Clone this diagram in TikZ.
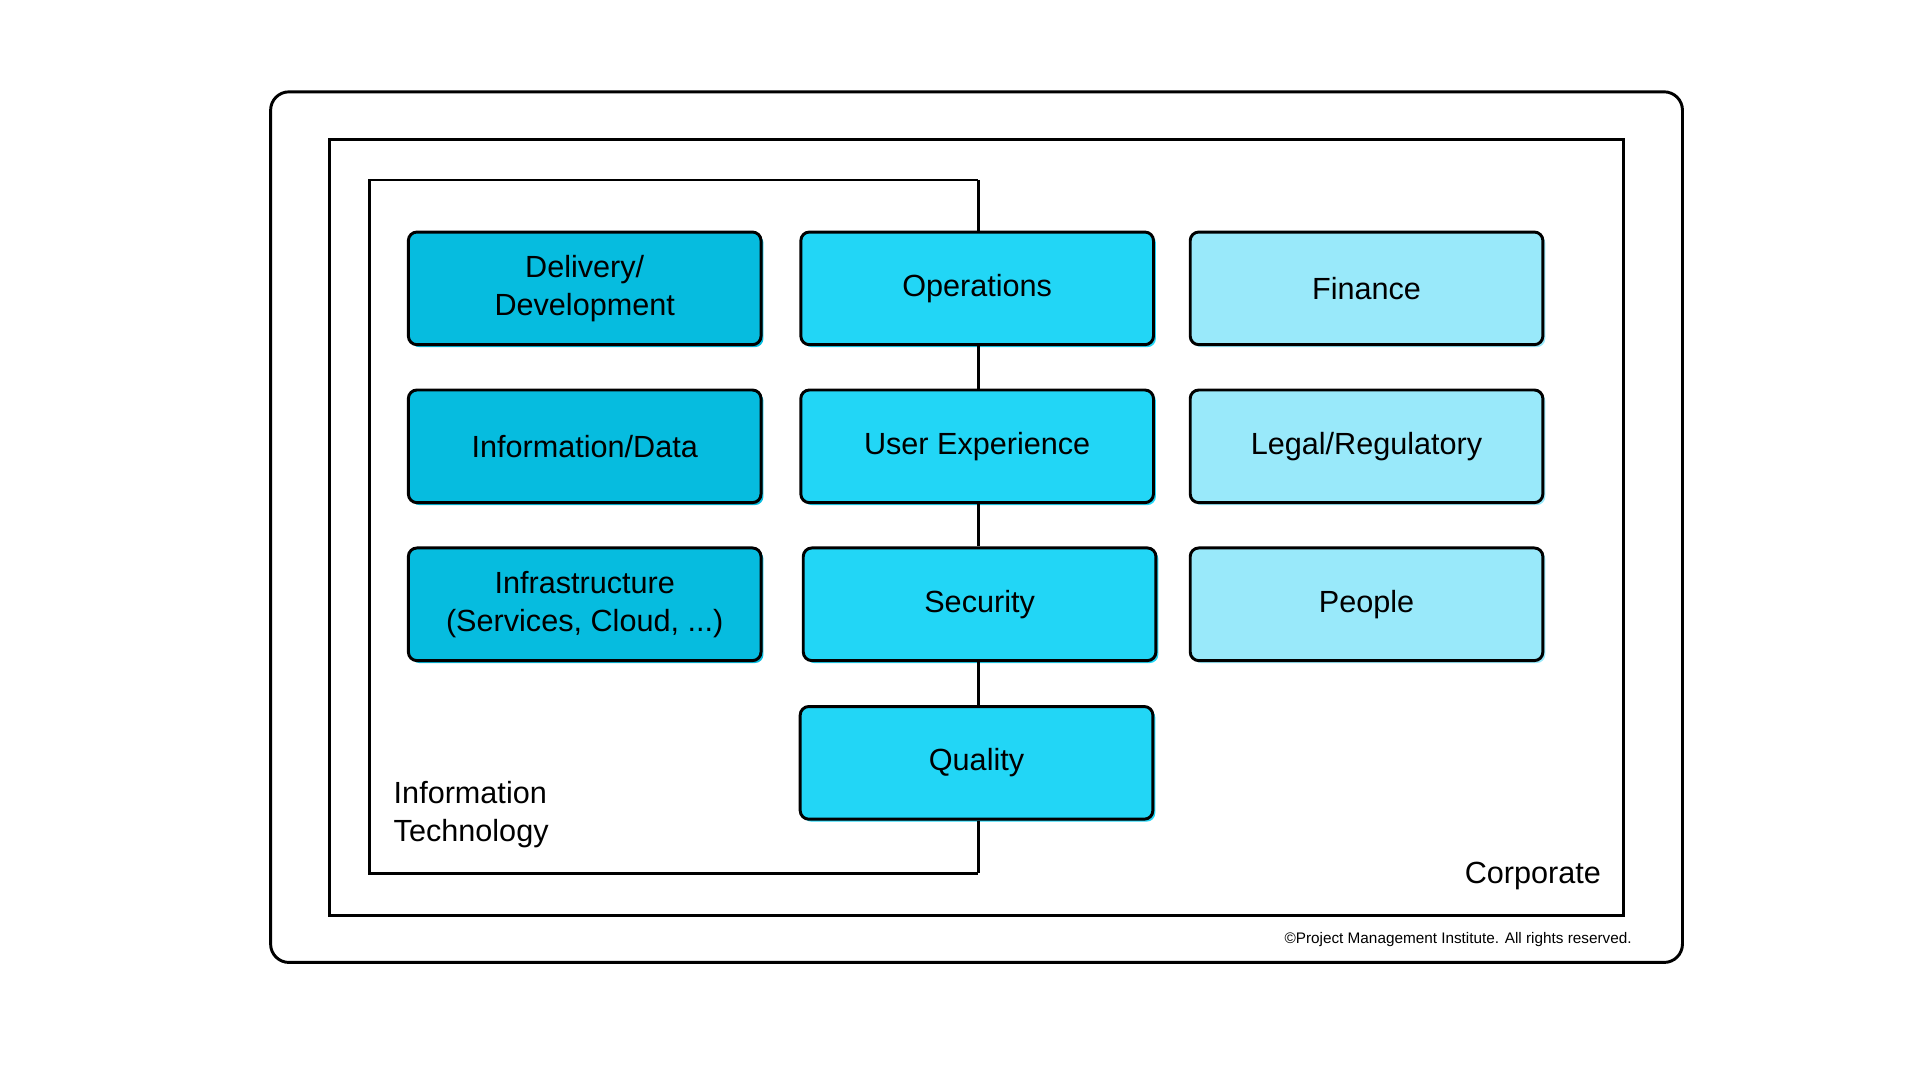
\documentclass[tikz,border=0pt]{standalone}
\usepackage{fontspec}
\setmainfont{Liberation Sans}
\definecolor{cA}{HTML}{06BCDF}
\definecolor{cB}{HTML}{22D6F6}
\definecolor{cC}{HTML}{99E9FA}
\begin{document}
\begin{tikzpicture}[x=1pt,y=-1pt,
  box/.style={draw=black,line width=2.4pt,rounded corners=7pt,minimum width=288pt,minimum height=92pt,align=center,font=\fontsize{25}{31}\selectfont,inner sep=0pt},
  frame/.style={line width=2.4pt}]
\useasboundingbox (0,0) rectangle (1568,882);
\draw[frame,rounded corners=15pt] (221,75) rectangle (1374,786);
\draw[frame] (269,114) rectangle (1326,748);
\coordinate (t) at (799,147);
\coordinate (b) at (799,713);
\draw[frame] (t) -- (302,147) -- (302,713) -- (b);
\foreach \n/\x/\y/\c/\t in {
  d/477.5/235.5/cA/{Delivery/\\Development},
  i/477.5/364.5/cA/{Information/Data},
  f/477.5/493.5/cA/{Infrastructure\\(Services, Cloud, ...)},
  o/798/235.5/cB/{Operations},
  u/798/364.5/cB/{User Experience},
  s/800/493.5/cB/{Security},
  q/797.5/623/cB/{Quality},
  fi/1116/235.5/cC/{Finance},
  l/1116/364.5/cC/{Legal/Regulatory},
  p/1116/493.5/cC/{People}}{
  \fill[\c,rounded corners=7pt] (\x-142,\y-44) rectangle (\x+146,\y+48);
  \node[box,fill=\c] (\n) at (\x,\y) {\t};
}
\draw[frame] (t) -- (o.north -| t);
\draw[frame] (o.south -| t) -- (u.north -| t);
\draw[frame] (u.south -| t) -- (s.north -| t);
\draw[frame] (s.south -| t) -- (q.north -| t);
\draw[frame] (q.south -| t) -- (b);
\node[anchor=west,align=left,font=\fontsize{25}{31}\selectfont] (it) at (318,665) {Information\\Technology};
\node[anchor=east,font=\fontsize{25}{31}\selectfont] (corp) at (1311,715) {Corporate};
\node[anchor=east,font=\fontsize{12.5}{15}\selectfont] (copy) at (1336,767) {©Project Management Institute. All rights reserved.};
\end{tikzpicture}
\end{document}
